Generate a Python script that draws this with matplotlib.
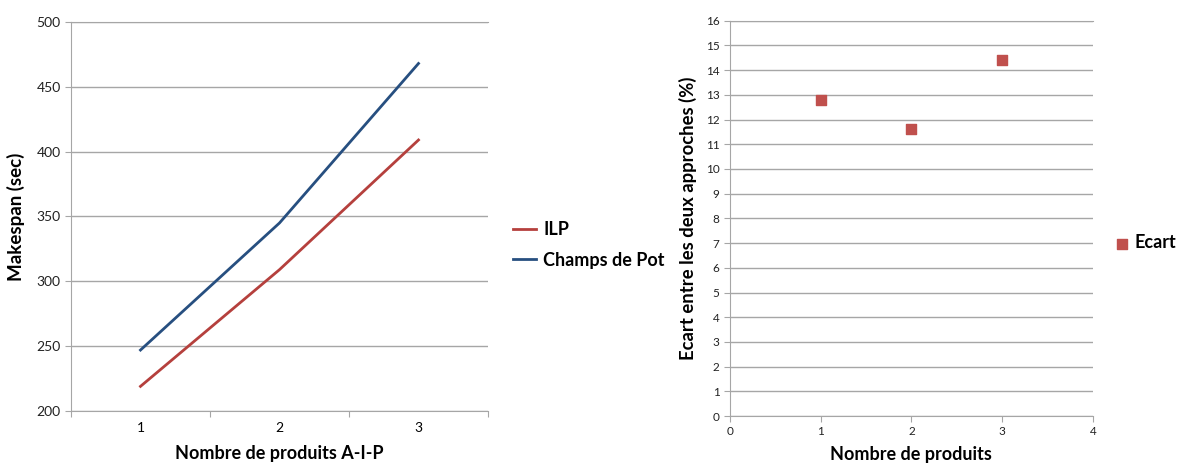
import numpy as np
import matplotlib
matplotlib.use("Agg")
import matplotlib.pyplot as plt

plt.rcParams['font.family'] = ['Lato', 'DejaVu Sans']

# left chart: makespan
categories = [1, 2, 3]
ilp = [219, 309, 409]
champs_de_pot = [247, 345, 468]

# right chart: gap between the two approaches
nb_produits = [1, 2, 3]
ecart = [12.8, 11.6, 14.4]

grid_color = '#a6a6a6'
red = '#B5403D'
blue = '#274F80'
marker_red = '#C0504D'


def style_axes(ax):
    for side in ['right']:
        ax.spines[side].set_visible(False)
    for side in ['left', 'bottom', 'top']:
        ax.spines[side].set_color(grid_color)
    ax.yaxis.grid(True, color=grid_color, linewidth=1)
    ax.set_axisbelow(True)
    ax.tick_params(colors=grid_color, labelcolor='#222222', length=4)


fig = plt.figure(figsize=(11.83, 4.68), dpi=100)

# --- left: line chart
ax1 = fig.add_axes([0.060, 0.1218, 0.3525, 0.8312])
ax1.plot(categories, ilp, color=red, linewidth=2, label='ILP')
ax1.plot(categories, champs_de_pot, color=blue, linewidth=2, label='Champs de Pot')
ax1.set_xlim(0.5, 3.5)
ax1.set_ylim(200, 500)
ax1.set_yticks(np.arange(200, 501, 50))
ax1.set_xticks([0.5, 1.5, 2.5, 3.5])
ax1.set_xticks(categories, minor=True)
ax1.set_xticklabels([])
ax1.set_xticklabels([str(c) for c in categories], minor=True)
ax1.tick_params(axis='x', which='minor', length=0, pad=8)
style_axes(ax1)
ax1.tick_params(axis='both', which='both', labelsize=10)
ax1.set_xlabel('Nombre de produits A-I-P', fontsize=13, fontweight='bold', labelpad=8)
ax1.set_ylabel('Makespan (sec)', fontsize=13.5, fontweight='bold', labelpad=8)
ax1.legend(loc='center left', bbox_to_anchor=(1.02, 0.427), frameon=False,
           prop={'weight': 'bold', 'size': 13}, handlelength=1.3,
           handletextpad=0.4, labelspacing=0.75)

# --- right: scatter chart
ax2 = fig.add_axes([0.617, 0.111, 0.3068, 0.8447])
ax2.scatter(nb_produits, ecart, marker='s', s=60, color=marker_red, label='Ecart', zorder=3)
ax2.set_xlim(0, 4)
ax2.set_ylim(0, 16)
ax2.set_xticks(np.arange(0, 5, 1))
ax2.set_yticks(np.arange(0, 17, 1))
style_axes(ax2)
ax2.tick_params(axis='both', labelsize=8.5)
ax2.set_xlabel('Nombre de produits', fontsize=13, fontweight='bold', labelpad=6)
ax2.set_ylabel('Ecart entre les deux approches (%)', fontsize=13.3, fontweight='bold', labelpad=6)
ax2.legend(loc='center left', bbox_to_anchor=(1.06, 0.438), frameon=False,
           prop={'weight': 'bold', 'size': 13}, handlelength=0.8, handletextpad=0.3,
           borderpad=0, borderaxespad=0)

fig.savefig('out.png', dpi=100)
